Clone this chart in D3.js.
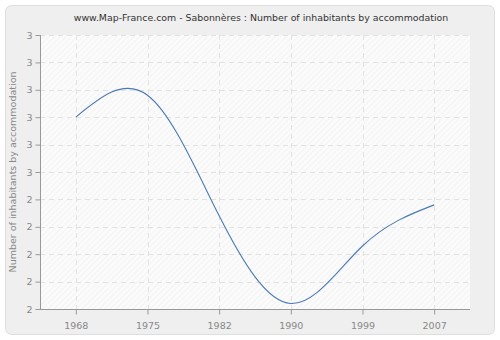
<!DOCTYPE html>
<html>
<head>
<meta charset="utf-8">
<script src="https://cdn.jsdelivr.net/npm/d3@7"></script>
<style>
  body { margin: 0; background: #fff; }
  text { font-family: Verdana, "DejaVu Sans", sans-serif; }
</style>
</head>
<body>
<svg id="chart" width="500" height="340"></svg>
<script>
const years = ['1968', '1975', '1982', '1990', '1999', '2007'];
const values = [2.7, 2.78, 2.34, 2.02, 2.23, 2.38];
const yTicks = [2, 2.1, 2.2, 2.3, 2.4, 2.5, 2.6, 2.7, 2.8, 2.9, 3];

const svg = d3.select('#chart');
const plotL = 40, plotR = 470, plotT = 35, plotB = 309;

// 外框
svg.append('rect')
  .attr('x', 5.5).attr('y', 5.5)
  .attr('width', 489).attr('height', 329)
  .attr('rx', 6)
  .attr('fill', '#efefef')
  .attr('stroke', '#dedede');

// 斜线背景
const defs = svg.append('defs');
const pat = defs.append('pattern')
  .attr('id', 'hatch')
  .attr('width', 4).attr('height', 4)
  .attr('patternUnits', 'userSpaceOnUse')
  .attr('patternTransform', 'rotate(45)');
pat.append('rect').attr('width', 4).attr('height', 4).attr('fill', '#fbfbfb');
pat.append('line')
  .attr('x1', 0).attr('y1', 0).attr('x2', 0).attr('y2', 4)
  .attr('stroke', '#ebebeb').attr('stroke-width', 1);

svg.append('rect')
  .attr('x', plotL).attr('y', plotT)
  .attr('width', plotR - plotL).attr('height', plotB - plotT)
  .attr('fill', 'url(#hatch)');

const x = d3.scalePoint().domain(years).range([plotL, plotR]).padding(0.5);
const y = d3.scaleLinear().domain([2, 3]).range([plotB, plotT]);

// 网格
svg.append('g')
  .selectAll('line')
  .data(yTicks)
  .enter()
  .append('line')
  .attr('x1', plotL).attr('x2', plotR)
  .attr('y1', d => Math.round(y(d)) + 0.5)
  .attr('y2', d => Math.round(y(d)) + 0.5)
  .attr('stroke', '#e2e2e2')
  .attr('stroke-dasharray', '5,4');

svg.append('g')
  .selectAll('line')
  .data(years)
  .enter()
  .append('line')
  .attr('x1', d => Math.round(x(d)) + 0.5)
  .attr('x2', d => Math.round(x(d)) + 0.5)
  .attr('y1', plotT).attr('y2', plotB)
  .attr('stroke', '#e2e2e2')
  .attr('stroke-dasharray', '5,4');

// 坐标轴
const yAxis = svg.append('g')
  .attr('transform', `translate(${plotL + 0.5},0)`)
  .call(d3.axisLeft(y).tickValues(yTicks).tickFormat(d3.format('.0f')).tickSize(5).tickSizeOuter(0));
const xAxis = svg.append('g')
  .attr('transform', `translate(0,${plotB + 0.5})`)
  .call(d3.axisBottom(x).tickSize(5).tickSizeOuter(0));

[yAxis, xAxis].forEach(a => {
  a.select('.domain').attr('stroke', '#999');
  a.selectAll('.tick line').attr('stroke', '#999');
  a.selectAll('.tick text')
    .attr('fill', '#888')
    .style('font-size', '9.5px');
});
yAxis.select('.domain').attr('d', `M0,${plotT}V${plotB}`);
xAxis.select('.domain').attr('d', `M${plotL},0H${plotR}`);
xAxis.selectAll('.tick text').attr('dy', '1.2em');

// 曲线
const line = d3.line()
  .x((d, i) => x(years[i]))
  .y(d => y(d))
  .curve(d3.curveNatural);

svg.append('path')
  .datum(values)
  .attr('d', line)
  .attr('fill', 'none')
  .attr('stroke', '#4a7ab5')
  .attr('stroke-width', 1.1);

// 标题
svg.append('text')
  .attr('x', 261).attr('y', 21)
  .attr('text-anchor', 'middle')
  .attr('fill', '#333')
  .style('font-size', '9.4px')
  .text('www.Map-France.com - Sabonnères : Number of inhabitants by accommodation');

svg.append('text')
  .attr('transform', `translate(16,${(plotT + plotB) / 2}) rotate(-90)`)
  .attr('text-anchor', 'middle')
  .attr('fill', '#888')
  .style('font-size', '9.5px')
  .text('Number of inhabitants by accommodation');
</script>
</body>
</html>
